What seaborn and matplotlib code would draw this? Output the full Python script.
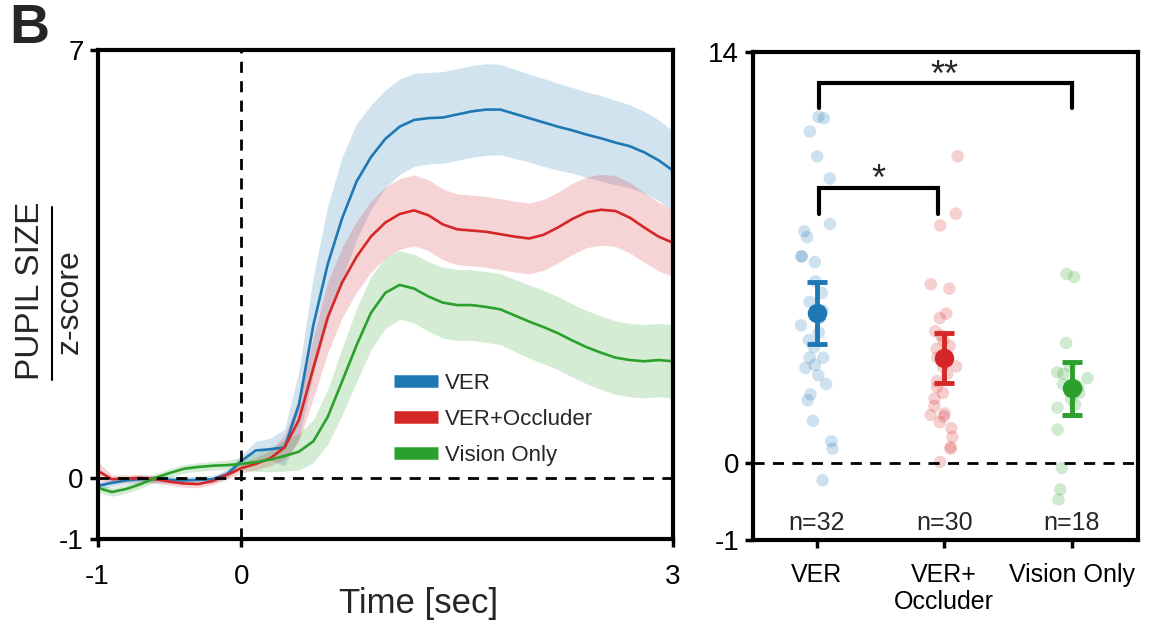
import numpy as np
import pandas as pd
import matplotlib.pyplot as plt
from matplotlib.lines import Line2D
import seaborn as sns

sns.set_style("white")
plt.rcParams["font.family"] = ["Liberation Sans", "DejaVu Sans"]

# ---- panel B left: pupil traces ----
t = [-1.0, -0.9, -0.8, -0.7, -0.6, -0.5, -0.4, -0.3, -0.2, -0.1,
     0.0, 0.1, 0.2, 0.3, 0.4, 0.5, 0.6, 0.7, 0.8, 0.9,
     1.0, 1.1, 1.2, 1.3, 1.4, 1.5, 1.6, 1.7, 1.8, 1.9,
     2.0, 2.1, 2.2, 2.3, 2.4, 2.5, 2.6, 2.7, 2.8, 2.9, 3.0]

ver_mean = [-0.13, -0.08, -0.04, -0.02, -0.02, -0.03, -0.04, -0.03, -0.02, 0.06,
            0.28, 0.45, 0.47, 0.50, 1.20, 2.50, 3.50, 4.25, 4.85, 5.25,
            5.55, 5.75, 5.86, 5.89, 5.90, 5.95, 6.00, 6.03, 6.03, 5.96,
            5.89, 5.82, 5.75, 5.69, 5.62, 5.56, 5.49, 5.43, 5.33, 5.20, 5.03]
ver_sem = [0.06, 0.06, 0.06, 0.06, 0.06, 0.06, 0.06, 0.06, 0.06, 0.07,
           0.10, 0.15, 0.18, 0.30, 0.55, 0.80, 0.95, 1.00, 0.95, 0.85,
           0.80, 0.78, 0.76, 0.75, 0.75, 0.75, 0.75, 0.75, 0.74, 0.73,
           0.72, 0.72, 0.71, 0.70, 0.70, 0.70, 0.69, 0.68, 0.67, 0.66, 0.65]

occ_mean = [0.12, -0.02, -0.01, 0.00, -0.02, -0.06, -0.09, -0.10, -0.05, 0.05,
            0.16, 0.23, 0.32, 0.50, 0.95, 1.80, 2.63, 3.20, 3.62, 3.95,
            4.18, 4.32, 4.38, 4.30, 4.15, 4.07, 4.05, 4.03, 3.99, 3.95,
            3.92, 3.98, 4.10, 4.24, 4.35, 4.39, 4.37, 4.26, 4.10, 3.95, 3.85]
occ_sem = [0.15, 0.07, 0.06, 0.06, 0.06, 0.06, 0.06, 0.06, 0.06, 0.07,
           0.08, 0.10, 0.12, 0.20, 0.35, 0.50, 0.58, 0.58, 0.58, 0.58,
           0.58, 0.58, 0.58, 0.58, 0.58, 0.58, 0.58, 0.58, 0.58, 0.58,
           0.58, 0.58, 0.58, 0.58, 0.58, 0.58, 0.58, 0.58, 0.57, 0.56, 0.55]

vis_mean = [-0.16, -0.23, -0.18, -0.10, 0.00, 0.08, 0.15, 0.18, 0.20, 0.21,
            0.23, 0.26, 0.30, 0.36, 0.43, 0.60, 1.00, 1.58, 2.17, 2.70,
            3.03, 3.16, 3.10, 2.97, 2.87, 2.83, 2.83, 2.80, 2.76, 2.66,
            2.56, 2.47, 2.37, 2.25, 2.14, 2.05, 1.97, 1.93, 1.91, 1.93, 1.91]
vis_sem = [0.07, 0.07, 0.07, 0.07, 0.07, 0.07, 0.07, 0.07, 0.07, 0.08,
           0.10, 0.15, 0.20, 0.25, 0.30, 0.35, 0.45, 0.55, 0.60, 0.60,
           0.58, 0.56, 0.56, 0.57, 0.58, 0.58, 0.58, 0.58, 0.58, 0.59,
           0.60, 0.60, 0.60, 0.60, 0.60, 0.60, 0.60, 0.60, 0.60, 0.60, 0.60]

conditions = ["VER", "VER+Occluder", "Vision Only"]
colors = ["#1f77b4", "#d62728", "#2ca02c"]

# ---- panel B right: individual subjects ----
ver_pts = [11.8, 11.75, 11.3, 10.45, 9.7, 8.15, 7.9, 7.7, 7.05, 6.85,
           7.05, 6.2, 5.8, 5.5, 5.2, 4.95, 4.7, 4.45, 4.2, 3.95,
           3.6, 3.6, 3.35, 3.25, 3.0, 2.7, 2.35, 2.15, 1.45, 0.75,
           0.5, -0.22]
occ_pts = [10.45, 8.5, 8.1, 6.1, 5.95, 5.1, 4.95, 4.5, 4.35, 4.2,
           3.9, 3.6, 3.3, 3.3, 3.05, 2.8, 2.6, 2.4, 2.2, 1.95,
           1.7, 1.65, 1.6, 1.4, 1.2, 0.9, 0.55, 0.5, 0.05, 4.0]
vis_pts = [6.45, 6.35, 4.1, 3.3, 3.1, 3.05, 2.9, 2.7, 2.6, 2.55,
           2.4, 2.2, 2.0, 1.9, 1.15, -0.06, -0.34, -0.47]

group_labels = ["VER", "VER+\nOccluder", "Vision Only"]
group_means = [5.12, 3.60, 2.56]
group_err = [1.06, 0.85, 0.90]
group_n = ["n=32", "n=30", "n=18"]


fig = plt.figure(figsize=(11.65, 6.29), dpi=100)
ax1 = fig.add_axes([0.0837, 0.143, 0.494, 0.777])
ax2 = fig.add_axes([0.6464, 0.141, 0.3305, 0.776])

# left panel
for m, s, c, name in zip([ver_mean, occ_mean, vis_mean],
                         [ver_sem, occ_sem, vis_sem], colors, conditions):
    m = np.array(m)
    s = np.array(s)
    ax1.fill_between(t, m - s, m + s, color=c, alpha=0.2, linewidth=0)
    sns.lineplot(x=t, y=m, color=c, linewidth=1.9, ax=ax1)

ax1.axhline(0, color="black", linestyle=(0, (4, 3)), linewidth=2, zorder=5)
ax1.axvline(0, color="black", linestyle=(0, (4, 3)), linewidth=2, zorder=5)
ax1.set_xlim(-1, 3)
ax1.set_ylim(-1, 7)
ax1.set_xticks([-1, 0, 3])
ax1.set_xticklabels(["-1", "0", "3"])
ax1.set_yticks([-1, 0, 7])
ax1.set_yticklabels(["-1", "0", "7"])
ax1.set_xlabel("Time [sec]", fontsize=25)
ax1.xaxis.set_label_coords(0.557, -0.098)
ax1.set_ylabel("")

handles = [Line2D([0], [0], color=c, linewidth=9, solid_capstyle="butt") for c in colors]
ax1.legend(handles, conditions, loc="upper left", bbox_to_anchor=(0.515, 0.34),
           frameon=False, fontsize=16, handlelength=2.0, handletextpad=0.3,
           labelspacing=0.68, borderpad=0, borderaxespad=0)

# fraction-style y label
fig.text(0.026, 0.537, "PUPIL SIZE", rotation=90, fontsize=24, ha="center", va="center")
fig.text(0.060, 0.521, "z-score", rotation=90, fontsize=23, ha="center", va="center")
fig.add_artist(Line2D([0.0446, 0.0446], [0.396, 0.671], color="black", linewidth=1.5,
                      transform=fig.transFigure))
fig.text(0.008, 0.995, "B", fontsize=40, fontweight="bold", ha="left", va="top")

# right panel
df = pd.DataFrame({
    "group": [group_labels[0]] * len(ver_pts) + [group_labels[1]] * len(occ_pts)
             + [group_labels[2]] * len(vis_pts),
    "value": ver_pts + occ_pts + vis_pts,
})
np.random.seed(3)
sns.stripplot(data=df, x="group", y="value", hue="group", order=group_labels,
              palette=colors, alpha=0.22, size=9, jitter=0.13, legend=False, ax=ax2)
for i, (m, e, c) in enumerate(zip(group_means, group_err, colors)):
    ax2.errorbar(i, m, yerr=e, fmt="o", color=c, markersize=13, elinewidth=3.5,
                 capsize=7, capthick=3.5, zorder=6)
    ax2.text(i, -0.78, group_n[i], fontsize=18, ha="center", va="center")

ax2.axhline(0, color="black", linestyle=(0, (4, 3)), linewidth=2, zorder=5)

# significance brackets
ax2.plot([0.02, 0.02, 2.0, 2.0], [12.09, 12.94, 12.94, 12.09], color="black",
         linewidth=3, solid_joinstyle="miter")
ax2.text(1.0, 12.58, "**", fontsize=26, ha="center", va="bottom")
ax2.plot([0.02, 0.02, 0.95, 0.95], [8.5, 9.37, 9.37, 8.5], color="black",
         linewidth=3, solid_joinstyle="miter")
ax2.text(0.48, 9.05, "*", fontsize=26, ha="center", va="bottom")


def fwd(y):
    y = np.asarray(y, dtype=float)
    return np.where(y < 0, y * 2.62, y)


def inv(y):
    y = np.asarray(y, dtype=float)
    return np.where(y < 0, y / 2.62, y)


ax2.set_yscale("function", functions=(fwd, inv))
ax2.set_ylim(-1, 14)
ax2.set_xlim(-0.5, 2.52)
ax2.set_yticks([-1, 0, 14])
ax2.set_yticklabels(["-1", "0", "14"])
ax2.set_xlabel("")
ax2.set_ylabel("")

for ax in (ax1, ax2):
    for sp in ax.spines.values():
        sp.set_visible(True)
        sp.set_color("black")
        sp.set_linewidth(3)
    ax.tick_params(direction="out", length=6, width=2.5, colors="black",
                   labelsize=20, pad=4, left=True, bottom=True)
ax1.tick_params(axis="x", pad=12)
ax2.tick_params(axis="x", labelsize=18, pad=10)
ax2.tick_params(axis="y", labelsize=20)

fig.savefig("out.png", dpi=100)
